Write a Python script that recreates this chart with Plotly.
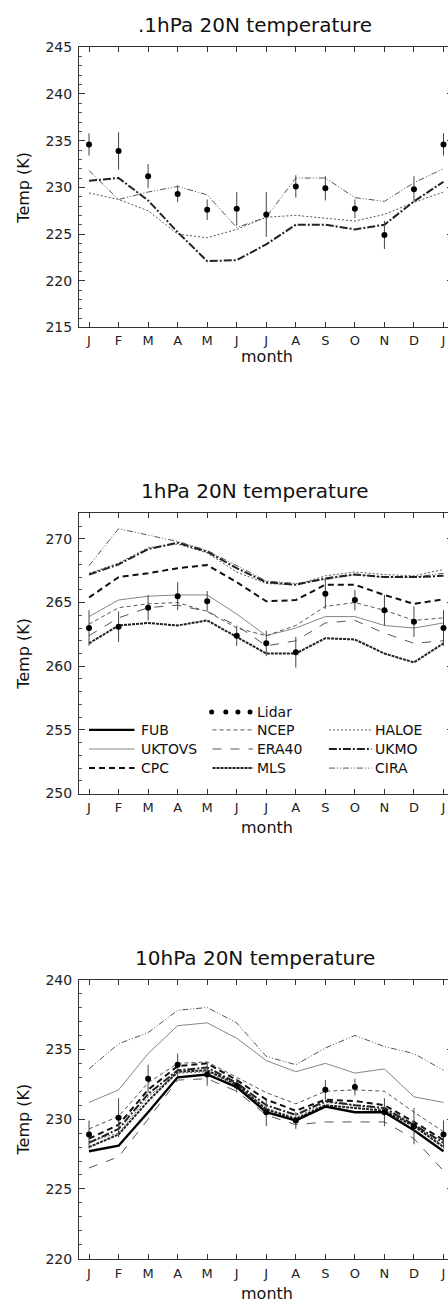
import plotly.graph_objects as go

# ---------------- data ----------------
months = list(range(13))
month_labels = ["J", "F", "M", "A", "M", "J", "J", "A", "S", "O", "N", "D", "J"]

# 0.1 hPa
lidar_01 = [234.6, 233.9, 231.2, 229.3, 227.6, 227.7, 227.1, 230.1, 229.9, 227.7, 224.9, 229.8, 234.6]
lidar_01_err = [1.2, 2.0, 1.3, 0.9, 1.1, 1.8, 2.4, 1.2, 1.3, 1.0, 1.5, 1.4, 1.2]
ukmo_01 = [230.7, 231.0, 228.6, 225.2, 222.1, 222.2, 223.9, 226.0, 226.0, 225.5, 226.0, 228.5, 230.6]
haloe_01 = [229.4, 228.7, 227.5, 225.0, 224.6, 225.5, 226.8, 227.0, 226.7, 226.4, 227.1, 228.4, 229.5]
cira_01 = [231.8, 228.7, 229.5, 230.1, 229.2, 225.7, 226.8, 231.0, 231.0, 228.9, 228.5, 230.5, 232.0]

# 1 hPa
lidar_1 = [263.0, 263.1, 264.6, 265.5, 265.1, 262.4, 261.8, 261.1, 265.7, 265.2, 264.4, 263.5, 263.0]
lidar_1_err = [1.4, 1.2, 1.0, 1.1, 0.8, 0.8, 1.0, 1.2, 1.2, 0.8, 1.2, 1.2, 1.4]
cira_1 = [267.9, 270.8, 270.3, 269.8, 269.1, 267.9, 266.7, 266.5, 266.8, 267.2, 267.0, 267.0, 267.3]
ukmo_1 = [267.2, 268.0, 269.2, 269.7, 269.0, 267.7, 266.6, 266.4, 266.9, 267.2, 267.0, 267.0, 267.1]
haloe_1 = [267.3, 268.1, 269.3, 269.6, 268.9, 267.4, 266.5, 266.4, 267.1, 267.4, 267.2, 267.1, 267.6]
cpc_1 = [265.4, 267.0, 267.3, 267.7, 267.95, 266.6, 265.1, 265.2, 266.4, 266.4, 265.6, 264.9, 265.25]
uktovs_1 = [263.9, 265.2, 265.5, 265.6, 265.6, 264.1, 262.4, 263.0, 263.9, 263.9, 263.2, 263.0, 263.4]
ncep_1 = [263.3, 264.6, 264.9, 265.0, 264.3, 263.0, 262.4, 263.2, 264.7, 265.0, 264.4, 263.6, 263.8]
era40_1 = [262.4, 263.8, 264.6, 264.8, 264.3, 263.2, 261.6, 262.0, 263.4, 263.6, 262.6, 261.8, 262.0]
mls_1 = [261.8, 263.2, 263.4, 263.2, 263.6, 262.3, 261.0, 261.0, 262.2, 262.1, 261.0, 260.3, 261.8]

# 10 hPa
lidar_10 = [228.9, 230.1, 232.9, 233.9, 233.2, 232.4, 230.5, 229.9, 232.1, 232.3, 230.5, 229.5, 228.9]
lidar_10_err = [1.0, 1.4, 1.0, 0.8, 0.8, 0.5, 1.0, 0.6, 0.7, 0.6, 1.0, 1.3, 1.0]
cira_10 = [233.6, 235.4, 236.2, 237.8, 238.0, 236.9, 234.5, 233.9, 235.1, 236.0, 235.2, 234.7, 233.5]
uktovs_10 = [231.2, 232.1, 234.7, 236.7, 236.9, 235.8, 234.2, 233.4, 234.0, 233.3, 233.6, 231.6, 231.2]
fub_10 = [227.7, 228.1, 230.5, 233.0, 233.2, 232.3, 230.5, 229.9, 230.9, 230.5, 230.5, 229.2, 227.7]
mls_10 = [228.0, 228.9, 231.3, 233.4, 233.5, 232.5, 230.7, 230.0, 231.0, 230.8, 230.6, 229.5, 228.0]
ukmo_10 = [228.3, 229.3, 231.8, 233.5, 233.7, 232.6, 231.0, 230.3, 231.3, 231.0, 230.8, 229.6, 228.3]
cpc_10 = [228.6, 229.6, 232.1, 233.8, 234.0, 232.8, 231.4, 230.6, 231.4, 231.3, 231.0, 229.8, 228.5]
ncep_10 = [229.3, 230.2, 232.6, 234.0, 234.1, 233.0, 231.9, 231.1, 232.0, 232.1, 232.0, 230.5, 229.1]
era40_10 = [226.5, 227.3, 230.0, 232.8, 232.9, 232.0, 230.3, 229.6, 229.8, 229.8, 229.8, 228.6, 226.3]
haloe_10 = [228.4, 229.0, 231.6, 233.3, 233.4, 232.4, 230.8, 230.1, 231.2, 231.0, 230.7, 229.6, 228.1]

titles = [".1hPa 20N temperature", "1hPa 20N temperature", "10hPa 20N temperature"]
y_ranges = [[215, 245], [250, 272], [220, 240]]

legend_rows = [["FUB", "NCEP", "HALOE"], ["UKTOVS", "ERA40", "UKMO"], ["CPC", "MLS", "CIRA"]]

# ---------------- styles ----------------
styles = {
    "FUB": dict(color="black", width=2.4, dash="solid"),
    "NCEP": dict(color="#555", width=1, dash="4px,3px"),
    "HALOE": dict(color="#555", width=1, dash="2px,2px"),
    "UKTOVS": dict(color="#777", width=0.9, dash="solid"),
    "ERA40": dict(color="#555", width=1, dash="9px,9px"),
    "UKMO": dict(color="#222", width=2, dash="8px,2px,2px,2px"),
    "CPC": dict(color="#111", width=2, dash="6px,4px"),
    "MLS": dict(color="#222", width=2, dash="3px,1px"),
    "CIRA": dict(color="#555", width=1, dash="6px,2px,1px,2px,1px,2px"),
}

# ---------------- page geometry ----------------
S, CY = 0.9875, 7.7          # compensation for the capture's scale/offset


def px(t):
    return t / S


def py(t):
    return (t - CY) / S


W, H = 454, 1313
FONT = "DejaVu Sans"
panels_ref = [(47, 327), (513, 793), (979, 1258)]
month_off = [29, 34, 35]
x_left, x_right = px(78), px(447)

panel_series = [
    [("HALOE", haloe_01), ("CIRA", cira_01), ("UKMO", ukmo_01)],
    [("UKTOVS", uktovs_1), ("NCEP", ncep_1), ("ERA40", era40_1), ("HALOE", haloe_1),
     ("CIRA", cira_1), ("UKMO", ukmo_1), ("CPC", cpc_1), ("MLS", mls_1)],
    [("UKTOVS", uktovs_10), ("CIRA", cira_10), ("ERA40", era40_10), ("NCEP", ncep_10),
     ("HALOE", haloe_10), ("CPC", cpc_10), ("UKMO", ukmo_10), ("MLS", mls_10), ("FUB", fub_10)],
]
panel_lidar = [(lidar_01, lidar_01_err), (lidar_1, lidar_1_err), (lidar_10, lidar_10_err)]

fig = go.Figure()
annotations = []
shapes = []

for i in range(3):
    sfx = "" if i == 0 else str(i + 1)
    xa, ya = "x" + sfx, "y" + sfx
    for name, vals in panel_series[i]:
        st = styles[name]
        fig.add_trace(go.Scatter(x=months, y=vals, mode="lines", name=name, showlegend=False,
                                 line=dict(color=st["color"], width=st["width"], dash=st["dash"]),
                                 xaxis=xa, yaxis=ya, cliponaxis=False))
    lv, le = panel_lidar[i]
    fig.add_trace(go.Scatter(x=months, y=lv, mode="markers", name="Lidar", showlegend=False,
                             marker=dict(color="black", size=6),
                             error_y=dict(type="data", array=le, visible=True, thickness=1,
                                          width=0, color="#444"),
                             xaxis=xa, yaxis=ya, cliponaxis=False))
    rtop, rbot = panels_ref[i]
    top, bot = py(rtop), py(rbot)
    fig.layout["xaxis" + sfx] = dict(
        domain=[x_left / W, x_right / W], range=[-0.34, 12.31], anchor=ya,
        tickvals=months, ticktext=month_labels, ticks="inside", ticklen=5,
        tickcolor="#333", showline=True, linecolor="#333", linewidth=1, mirror="ticks",
        showgrid=False, zeroline=False, ticklabelstandoff=1 + i,
        tickfont=dict(family=FONT, size=13, color="#222"), fixedrange=True)
    fig.layout["yaxis" + sfx] = dict(
        domain=[1 - bot / H, 1 - top / H], range=y_ranges[i], anchor=xa,
        tick0=0, dtick=5, ticks="inside", ticklen=6, tickcolor="#333",
        minor=dict(dtick=1, ticks="inside", ticklen=3, tickcolor="#555"),
        showline=True, linecolor="#333", linewidth=1, mirror="ticks",
        showgrid=False, zeroline=False, ticklabelstandoff=3,
        tickfont=dict(family=FONT, size=14, color="#222"), fixedrange=True)
    # titles
    annotations.append(dict(text=titles[i], xref="paper", yref="paper", x=px(252) / W,
                            y=1 - py(rtop - 22) / H, xanchor="center", yanchor="middle",
                            showarrow=False, font=dict(family=FONT, size=20, color="#111")))
    annotations.append(dict(text="month", xref="paper", yref="paper", x=px(264) / W,
                            y=1 - py(rbot + month_off[i]) / H, xanchor="center",
                            yanchor="middle", showarrow=False,
                            font=dict(family=FONT, size=16, color="#111")))
    annotations.append(dict(text="Temp (K)", xref="paper", yref="paper", x=px(23) / W,
                            y=1 - py((rtop + rbot) / 2) / H, xanchor="center",
                            yanchor="middle", textangle=-90, showarrow=False,
                            font=dict(family=FONT, size=16, color="#111")))

# ---------------- legend in middle panel ----------------
row_y = [255.0, 253.5, 252.0]
col_x = [(0.0, 1.54, 1.68), (4.18, 5.55, 5.62), (8.12, 9.56, 9.6)]
for r, row in enumerate(legend_rows):
    for c, name in enumerate(row):
        st = styles[name]
        x0, x1, xt = col_x[c]
        shapes.append(dict(type="line", xref="x2", yref="y2", x0=x0, x1=x1,
                           y0=row_y[r], y1=row_y[r],
                           line=dict(color=st["color"], width=st["width"], dash=st["dash"])))
        annotations.append(dict(text=name, xref="x2", yref="y2", x=xt, y=row_y[r],
                                xanchor="left", yanchor="middle", showarrow=False,
                                font=dict(family=FONT, size=14, color="#111")))
for dx in [4.15, 4.63, 5.04, 5.45]:
    shapes.append(dict(type="circle", xref="x2", yref="y2", xsizemode="pixel",
                       ysizemode="pixel", xanchor=dx, yanchor=256.4,
                       x0=-2.5, x1=2.5, y0=-2.5, y1=2.5,
                       fillcolor="black", line=dict(color="black", width=0)))
annotations.append(dict(text="Lidar", xref="x2", yref="y2", x=5.62, y=256.4,
                        xanchor="left", yanchor="middle", showarrow=False,
                        font=dict(family=FONT, size=14, color="#111")))

fig.update_layout(width=W, height=H, margin=dict(l=0, r=0, t=0, b=0),
                  paper_bgcolor="white", plot_bgcolor="white", showlegend=False,
                  annotations=annotations, shapes=shapes)

# page style: remove the default body margin synchronously (runs right after newPlot is called)
page_js = ("});"
           "document.documentElement.style.margin='0';"
           "document.documentElement.style.overflow='hidden';"
           "document.body.style.margin='0';"
           "document.body.style.overflow='hidden';"
           "(function(){")

fig.write_html("out.html", config={"displayModeBar": False, "staticPlot": True},
               post_script=page_js)
